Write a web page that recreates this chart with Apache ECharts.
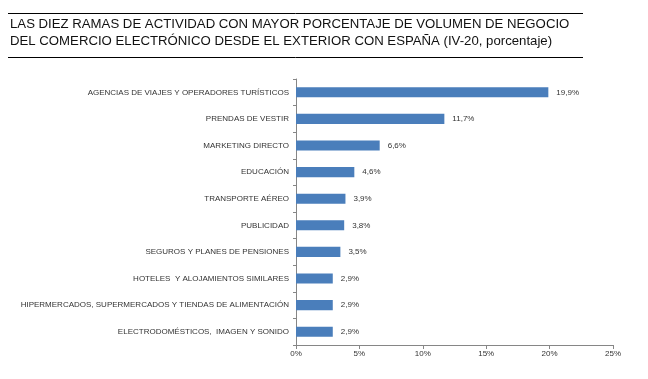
<!DOCTYPE html>
<html><head><meta charset="utf-8">
<script src="https://cdn.jsdelivr.net/npm/echarts@6/dist/echarts.min.js"></script>
<style>html,body{margin:0;padding:0;background:#fff}#c{width:648px;height:379px}</style>
</head><body><div id="c"></div>
<script>
var categories = [
  "AGENCIAS DE VIAJES Y OPERADORES TURÍSTICOS",
  "PRENDAS DE VESTIR",
  "MARKETING DIRECTO",
  "EDUCACIÓN",
  "TRANSPORTE AÉREO",
  "PUBLICIDAD",
  "SEGUROS Y PLANES DE PENSIONES",
  "HOTELES  Y ALOJAMIENTOS SIMILARES",
  "HIPERMERCADOS, SUPERMERCADOS Y TIENDAS DE ALIMENTACIÓN",
  "ELECTRODOMÉSTICOS,  IMAGEN Y SONIDO"
];
var values = [19.9, 11.7, 6.6, 4.6, 3.9, 3.8, 3.5, 2.9, 2.9, 2.9];
var titleLines = [
  "LAS DIEZ RAMAS DE ACTIVIDAD CON MAYOR PORCENTAJE DE VOLUMEN DE NEGOCIO",
  "DEL COMERCIO ELECTRÓNICO DESDE EL EXTERIOR CON ESPAÑA (IV-20, porcentaje)"
];
var chart = echarts.init(document.getElementById('c'));
var font = '"Liberation Sans", Arial, sans-serif';
chart.setOption({
  animation: false,
  graphic: [
    {type:'line', shape:{x1:8,y1:13.5,x2:583,y2:13.5}, style:{stroke:'#000',lineWidth:1}},
    {type:'line', shape:{x1:8,y1:57.5,x2:583,y2:57.5}, style:{stroke:'#000',lineWidth:1}},
    {type:'text', left:10, top:18, style:{text:titleLines[0], font:'13.2px '+font, fill:'#111'}},
    {type:'text', left:10, top:35, style:{text:titleLines[1], font:'13.2px '+font, fill:'#111'}}
  ],
  grid: {left:296, right:35, top:79, bottom:34, containLabel:false},
  xAxis: {
    type:'value', min:0, max:25, interval:5,
    axisLine:{show:true, lineStyle:{color:'#868686'}},
    axisTick:{show:true, length:4, lineStyle:{color:'#868686'}},
    splitLine:{show:false},
    axisLabel:{formatter:'{value}%', fontSize:8, color:'#333', fontFamily:font, margin:5}
  },
  yAxis: {
    type:'category', data:categories, inverse:true,
    axisLine:{show:true, lineStyle:{color:'#868686'}},
    axisTick:{show:true, length:3, lineStyle:{color:'#868686'}},
    axisLabel:{fontSize:8, color:'#333', fontFamily:font, margin:7}
  },
  series: [{
    type:'bar', data:values, barWidth:'38%',
    itemStyle:{color:'#4a7ebb'},
    label:{show:true, position:'right', distance:8, fontSize:8, color:'#333', fontFamily:font,
      formatter:function(p){return p.value.toFixed(1).replace('.',',')+'%';}}
  }]
});
</script></body></html>
